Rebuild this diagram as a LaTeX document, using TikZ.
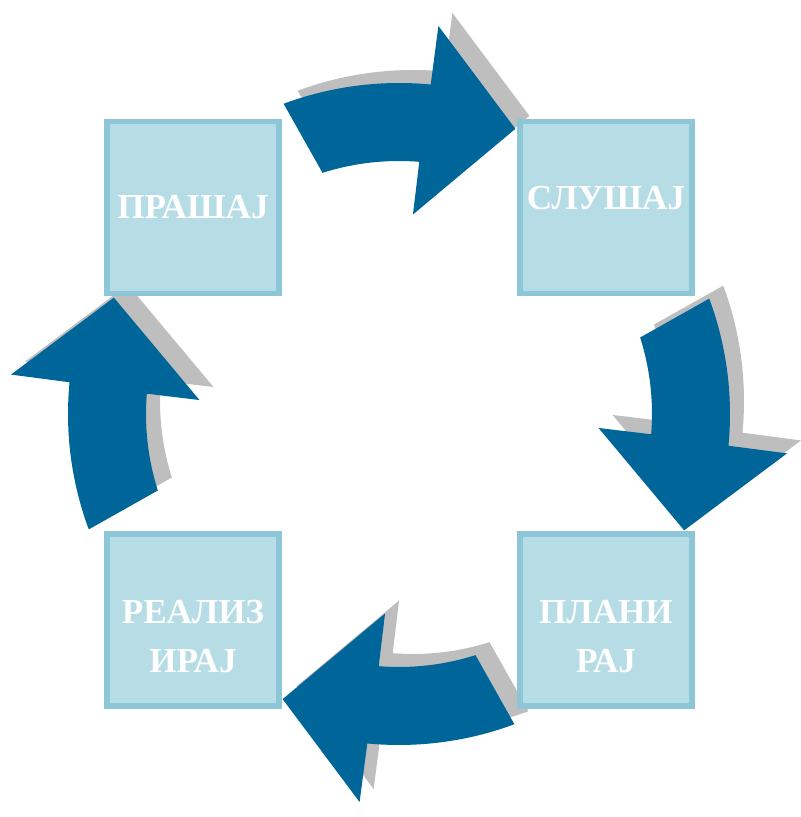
\documentclass[tikz,border=0pt]{standalone}
\usepackage{fontspec}
\setmainfont{Liberation Serif}
\usetikzlibrary{calc}

\definecolor{arrowblue}{RGB}{0,102,154}
\definecolor{shadowgray}{RGB}{190,190,190}
\definecolor{boxfill}{RGB}{182,220,230}
\definecolor{boxline}{RGB}{141,198,214}

% one bent arrow, drawn round the origin, pointing clockwise
\newcommand{\cyclearrow}{%
  (110.4:331) arc[start angle=110.4, end angle=84.5, radius=331]
  -- (84.2:390) -- (67.8:308) -- (86:200) -- (85.4:253)
  arc[start angle=85.4, end angle=107.6, radius=253] -- cycle}

\tikzset{
  stepbox/.style={draw=boxline, fill=boxfill, line width=4.3pt,
    minimum size=5.16cm, inner sep=0pt, text=white, align=center,
    font=\fontsize{30}{42}\selectfont\bfseries},
  lowtext/.style={text height=90pt, text depth=0pt},
}

\begin{document}
\begin{tikzpicture}[x=0.03cm, y=0.03cm]
		\useasboundingbox (0,0) rectangle (800,817);
		\coordinate (cen) at (399,403);
		
		\foreach \rot in {0,-90,-180,-270}{
		\begin{scope}[shift={($(cen)+(14,13)$)}, rotate=\rot]
		\fill[shadowgray] \cyclearrow;
		\end{scope}
		\begin{scope}[shift={(cen)}, rotate=\rot]
		\fill[arrowblue] \cyclearrow;
		\end{scope}
		}
		
		\node[stepbox] (ask) at (193,609.5) {ПРАШАЈ};
		\node[stepbox, text height=20pt, text depth=17pt] (listen) at (606,609.5) {СЛУШАЈ};
		\node[stepbox, lowtext] (plan) at (606,197) {ПЛАНИ\\РАЈ};
		\node[stepbox, lowtext] (realize) at (193,197) {РЕАЛИЗ\\ИРАЈ};
		\end{tikzpicture}
\end{document}
